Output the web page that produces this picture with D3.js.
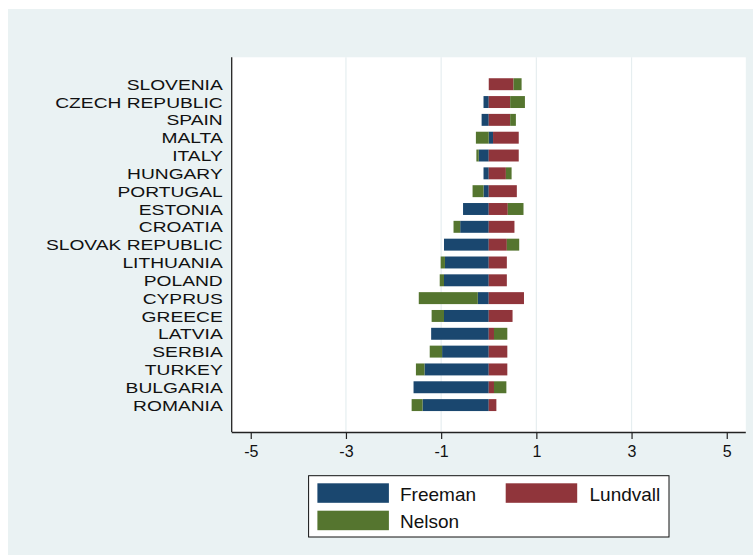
<!DOCTYPE html>
<html>
<head>
<meta charset="utf-8">
<script src="https://cdn.jsdelivr.net/npm/d3@7"></script>
<style>
  html, body { margin: 0; padding: 0; background: #ffffff; }
  svg { display: block; }
  text { font-family: "Liberation Sans", Arial, sans-serif; fill: #111; }
</style>
</head>
<body>
<svg id="chart" width="753" height="555"></svg>
<script>
const countries = ["SLOVENIA", "CZECH REPUBLIC", "SPAIN", "MALTA", "ITALY", "HUNGARY",
  "PORTUGAL", "ESTONIA", "CROATIA", "SLOVAK REPUBLIC", "LITHUANIA", "POLAND", "CYPRUS",
  "GREECE", "LATVIA", "SERBIA", "TURKEY", "BULGARIA", "ROMANIA"];
const freeman  = [0.00, -0.11, -0.15, 0.09, -0.21, -0.11, -0.11, -0.54, -0.60, -0.94, -0.92, -0.94, -0.23, -0.94, -1.21, -0.98, -1.35, -1.58, -1.39];
const lundvall = [0.52, 0.45, 0.45, 0.54, 0.63, 0.36, 0.59, 0.40, 0.54, 0.38, 0.38, 0.38, 0.74, 0.50, 0.11, 0.39, 0.39, 0.11, 0.16];
const nelson   = [0.17, 0.31, 0.12, -0.27, -0.05, 0.12, -0.23, 0.33, -0.14, 0.26, -0.09, -0.09, -1.24, -0.26, 0.28, -0.26, -0.18, 0.26, -0.23];
const seriesNames = ["Freeman", "Lundvall", "Nelson"];
const seriesColors = ["#1a476f", "#90353b", "#55752f"];
const xTicks = [-5, -3, -1, 1, 3, 5];
const gridTicks = [-3, -1, 1, 3];

const rows = countries.map((c, i) => ({country: c, Freeman: freeman[i], Lundvall: lundvall[i], Nelson: nelson[i]}));

const svg = d3.select("#chart");

// outer graph region
svg.append("rect").attr("x", 8).attr("y", 9).attr("width", 745).attr("height", 546).attr("fill", "#eaf2f3");

const plot = {left: 231.7, right: 745.8, top: 57.3, bottom: 432};
svg.append("rect").attr("x", plot.left).attr("y", plot.top)
  .attr("width", plot.right - plot.left).attr("height", plot.bottom - plot.top).attr("fill", "#ffffff");

const x = d3.scaleLinear().domain([-5.4, 5.4]).range([plot.left, plot.right]);
const y = d3.scaleBand().domain(countries).range([75.3, 414]).paddingInner(0.33).paddingOuter(0.165);

// grid
svg.append("g").selectAll("line").data(gridTicks).join("line")
  .attr("x1", d => x(d)).attr("x2", d => x(d))
  .attr("y1", plot.top).attr("y2", plot.bottom)
  .attr("stroke", "#e6eef0").attr("stroke-width", 1.2);

// stacked bars
const stack = d3.stack().keys(seriesNames).offset(d3.stackOffsetDiverging);
const stacked = stack(rows);
const color = d3.scaleOrdinal().domain(seriesNames).range(seriesColors);

svg.append("g").selectAll("g").data(stacked).join("g")
  .attr("fill", d => color(d.key))
  .selectAll("rect").data(d => d).join("rect")
  .attr("x", d => x(Math.min(d[0], d[1])))
  .attr("width", d => Math.abs(x(d[1]) - x(d[0])))
  .attr("y", d => y(d.data.country))
  .attr("height", y.bandwidth());

// x axis
const xAxis = d3.axisBottom(x).tickValues(xTicks).tickSize(7).tickPadding(7).tickFormat(d => String(d));
const gx = svg.append("g").attr("transform", `translate(0,${plot.bottom})`).call(xAxis);
gx.select(".domain").attr("d", `M${plot.left},0.5H${plot.right}`).attr("stroke", "#222").attr("stroke-width", 1.3);
gx.selectAll(".tick line").attr("stroke", "#222").attr("stroke-width", 1.2);
gx.selectAll(".tick text").attr("font-size", 16).attr("font-family", "Liberation Sans, Arial, sans-serif").attr("fill", "#222");

// y axis line
svg.append("line").attr("x1", plot.left).attr("x2", plot.left).attr("y1", plot.top).attr("y2", plot.bottom)
  .attr("stroke", "#222").attr("stroke-width", 1.3);

// y labels (stretched horizontally like the reference)
svg.append("g").selectAll("text").data(countries).join("text")
  .attr("transform", d => `translate(222.7,${y(d) + y.bandwidth() / 2 + 5.6}) scale(1.24,1)`)
  .attr("text-anchor", "end")
  .attr("font-size", 15.5)
  .text(d => d);

// legend
const leg = svg.append("g");
leg.append("rect").attr("x", 308.6).attr("y", 475.7).attr("width", 360.4).attr("height", 61.3)
  .attr("fill", "#ffffff").attr("stroke", "#111").attr("stroke-width", 1);
const legendItems = [
  {name: "Freeman", sx: 317.4, sy: 483.3, tx: 400, ty: 501},
  {name: "Lundvall", sx: 505.7, sy: 483.3, tx: 589.5, ty: 501},
  {name: "Nelson", sx: 317.4, sy: 510.7, tx: 400, ty: 528.3}
];
legendItems.forEach(it => {
  leg.append("rect").attr("x", it.sx).attr("y", it.sy).attr("width", 71.5).attr("height", 19.5)
    .attr("fill", color(it.name));
  leg.append("text").attr("x", it.tx).attr("y", it.ty).attr("font-size", 19).text(it.name);
});
</script>
</body>
</html>
